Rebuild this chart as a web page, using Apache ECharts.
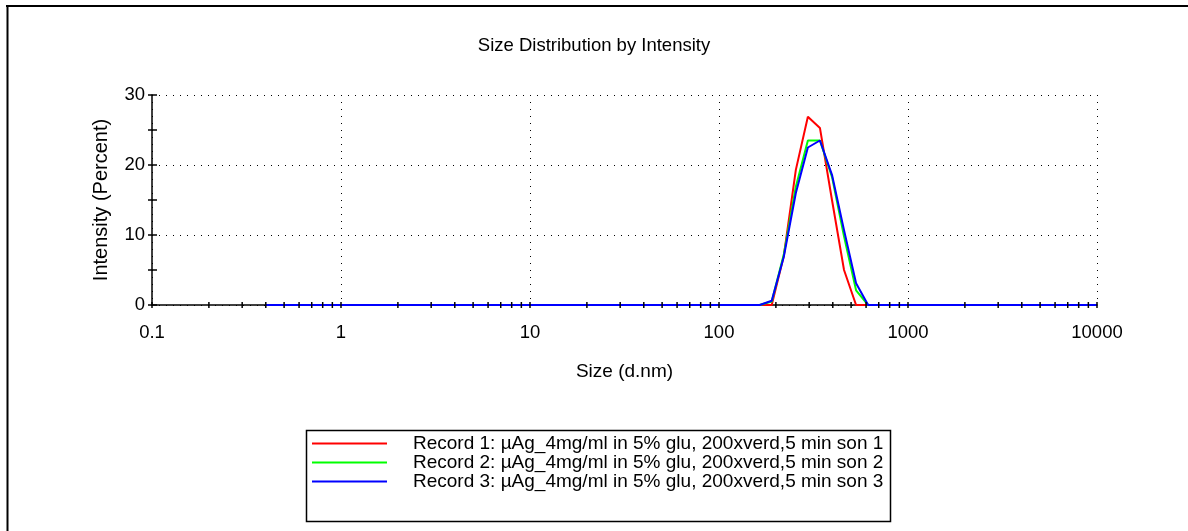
<!DOCTYPE html>
<html>
<head>
<meta charset="utf-8">
<script src="https://cdn.jsdelivr.net/npm/echarts@6/dist/echarts.min.js"></script>
<style>html,body{margin:0;padding:0;background:#fff}#c{width:1188px;height:531px}</style>
</head>
<body>
<div id="c"></div>
<script>
const sizes = [0.4,0.4632,0.5365,0.6213,0.7195,0.8332,0.9649,1.117,1.294,1.499,1.736,2.01,2.328,2.696,3.122,3.615,4.187,4.849,5.615,6.503,7.531,8.721,10.1,11.7,13.54,15.69,18.17,21.04,24.36,28.21,32.67,37.84,43.82,50.75,58.77,68.06,78.82,91.28,105.7,122.4,141.8,164.2,190.1,220.2,255,295.3,342,396.1,458.7,531.2,615.1,712.4,825,955.4,1106,1281,1484,1718,1990,2305,2669,3091,3580,4145,4801,5560,6439,7456,8635,10000];
const record1 = [0,0,0,0,0,0,0,0,0,0,0,0,0,0,0,0,0,0,0,0,0,0,0,0,0,0,0,0,0,0,0,0,0,0,0,0,0,0,0,0,0,0,0,7.0,19.3,26.9,25.3,15.0,5.0,0,0,0,0,0,0,0,0,0,0,0,0,0,0,0,0,0,0,0,0,0];
const record2 = [0,0,0,0,0,0,0,0,0,0,0,0,0,0,0,0,0,0,0,0,0,0,0,0,0,0,0,0,0,0,0,0,0,0,0,0,0,0,0,0,0,0,0.5,7.2,16.9,23.5,23.5,18.3,9.8,2.1,0,0,0,0,0,0,0,0,0,0,0,0,0,0,0,0,0,0,0,0];
const record3 = [0,0,0,0,0,0,0,0,0,0,0,0,0,0,0,0,0,0,0,0,0,0,0,0,0,0,0,0,0,0,0,0,0,0,0,0,0,0,0,0,0,0,0.6,6.9,16.0,22.5,23.5,18.6,10.7,3.1,0,0,0,0,0,0,0,0,0,0,0,0,0,0,0,0,0,0,0,0];
const seriesNames = [
  'Record 1: µAg_4mg/ml in 5% glu, 200xverd,5 min son 1',
  'Record 2: µAg_4mg/ml in 5% glu, 200xverd,5 min son 2',
  'Record 3: µAg_4mg/ml in 5% glu, 200xverd,5 min son 3'
];
const seriesColors = ['#ff0000', '#00ff00', '#0000ff'];
const decades = [0.1, 1, 10, 100, 1000];
const multipliers = [1, 2, 3, 4, 5, 6, 7, 8, 9];
const yTickValues = [0, 5, 10, 15, 20, 25, 30];
const xTickValues = [];
decades.forEach(d => multipliers.forEach(m => xTickValues.push(d * m)));
xTickValues.push(10000);

const FONT = 'Liberation Sans, Arial, sans-serif';
const chart = echarts.init(document.getElementById('c'), null, {renderer: 'canvas'});
const records = [record1, record2, record3];

const lineSeries = records.map((rec, i) => ({
  name: seriesNames[i],
  type: 'line',
  data: sizes.map((s, j) => [s, rec[j]]),
  showSymbol: false,
  symbol: 'none',
  lineStyle: {color: seriesColors[i], width: 2},
  itemStyle: {color: seriesColors[i]},
  z: 3,
  animation: false
}));

const tickSeries = [
  {
    type: 'custom', coordinateSystem: 'cartesian2d', silent: true, clip: false, z: 5,
    data: xTickValues.map(v => [v, 0]),
    encode: {x: 0, y: 1},
    renderItem: (params, api) => {
      const p = api.coord([api.value(0), api.value(1)]);
      return {type: 'line', shape: {x1: p[0], y1: p[1] - 3, x2: p[0], y2: p[1] + 3},
        style: {stroke: '#000', lineWidth: 1.5}};
    }
  },
  {
    type: 'custom', coordinateSystem: 'cartesian2d', silent: true, clip: false, z: 5,
    data: yTickValues.map(v => [0.1, v]),
    encode: {x: 0, y: 1},
    renderItem: (params, api) => {
      const p = api.coord([api.value(0), api.value(1)]);
      return {type: 'line', shape: {x1: p[0] - 4, y1: p[1], x2: p[0] + 5, y2: p[1]},
        style: {stroke: '#000', lineWidth: 1.5}};
    }
  }
];

const option = {
  backgroundColor: '#fff',
  animation: false,
  title: {
    text: 'Size Distribution by Intensity',
    left: 'center', top: 31,
    textStyle: {fontFamily: FONT, fontSize: 18.5, fontWeight: 'normal', color: '#000'}
  },
  grid: {left: 152, right: 91, top: 95, bottom: 226, containLabel: false},
  xAxis: {
    type: 'log', logBase: 10, min: 0.1, max: 10000,
    name: 'Size (d.nm)', nameLocation: 'middle', nameGap: 57,
    nameTextStyle: {fontFamily: FONT, fontSize: 19, color: '#000'},
    axisLine: {show: true, onZero: false, lineStyle: {color: '#000', width: 1.5}},
    axisTick: {show: false},
    axisLabel: {fontFamily: FONT, fontSize: 18.5, color: '#000', margin: 18,
      formatter: v => String(parseFloat(Number(v).toPrecision(6)))},
    splitLine: {show: true, lineStyle: {color: '#000', type: [1, 6], width: 1}},
    minorTick: {show: false}
  },
  yAxis: {
    type: 'value', min: 0, max: 30, interval: 10,
    name: 'Intensity (Percent)', nameLocation: 'middle', nameGap: 41,
    nameTextStyle: {fontFamily: FONT, fontSize: 20, color: '#000'},
    axisLine: {show: true, lineStyle: {color: '#000', width: 1.5}},
    axisTick: {show: false},
    axisLabel: {fontFamily: FONT, fontSize: 18.5, color: '#000', margin: 7},
    splitLine: {show: true, lineStyle: {color: '#000', type: [1, 6], width: 1}}
  },
  legend: {
    orient: 'vertical', left: 312, top: 434, itemGap: 0,
    itemWidth: 75, itemHeight: 2, padding: 0,
    data: seriesNames.map(n => ({name: n, icon: 'rect'})),
    textStyle: {fontFamily: FONT, fontSize: 19, color: '#000', lineHeight: 19, padding: [0, 0, 0, 21]},
    selectedMode: false
  },
  graphic: [
    {type: 'line', shape: {x1: 6, y1: 6, x2: 1188, y2: 6}, style: {stroke: '#000', lineWidth: 2}},
    {type: 'line', shape: {x1: 7.5, y1: 5, x2: 7.5, y2: 531}, style: {stroke: '#000', lineWidth: 2}},
    {type: 'rect', shape: {x: 306.5, y: 430.5, width: 584, height: 91}, style: {fill: null, stroke: '#000', lineWidth: 1.5}, z: -1}
  ],
  series: lineSeries.concat(tickSeries)
};
chart.setOption(option);
</script>
</body>
</html>
